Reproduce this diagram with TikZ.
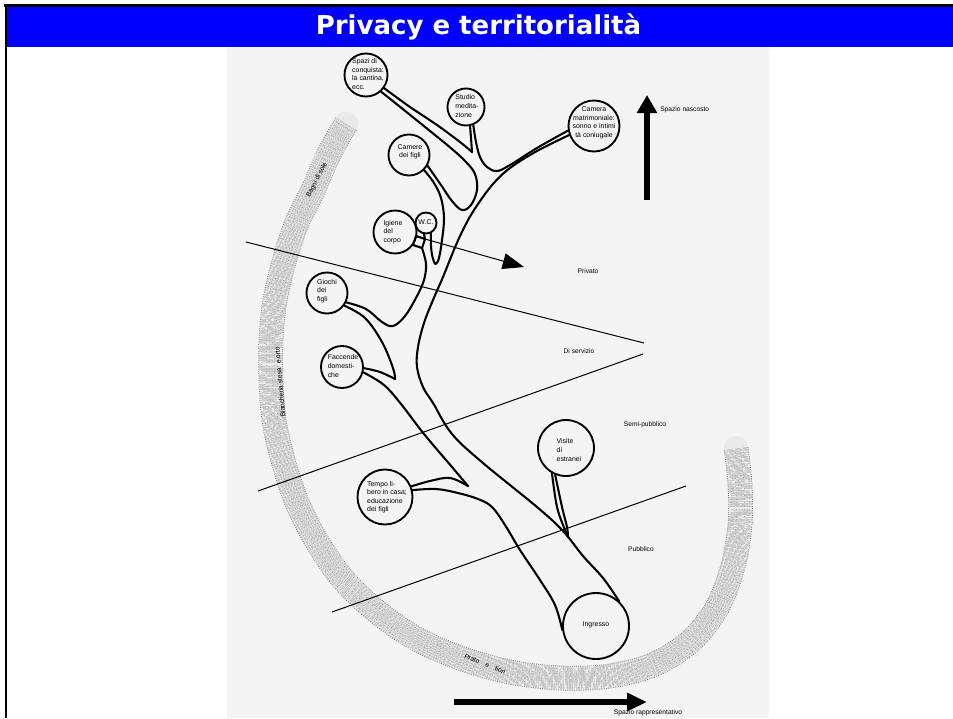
\documentclass[tikz,border=0pt]{standalone}
\usepackage{fontspec}
\setmainfont{Liberation Sans}
\newfontfamily\titlefont{DejaVu Sans}
\usetikzlibrary{arrows.meta}
\definecolor{scanbg}{RGB}{244,244,244}
\definecolor{bandgrey}{RGB}{234,234,234}
\definecolor{titleblue}{RGB}{0,0,255}
\begin{document}
\begin{tikzpicture}[x=0.75pt,y=-0.75pt,
  room/.style={circle,draw,line width=1.4pt,inner sep=0pt,minimum size=#1*1.5pt},
  roomtext/.style={font=\fontsize{5.2}{6.4}\selectfont,inner sep=0pt,align=left},
  roomtextc/.style={roomtext,align=center},
  lbl/.style={font=\fontsize{5}{6}\selectfont,inner sep=0pt},
  branch/.style={line width=1.55pt,line join=round,line cap=round},
  zone/.style={line width=0.75pt},
]
\useasboundingbox (0,0) rectangle (953,718);
\fill[white] (0,0) rectangle (953,718);
\fill[scanbg] (227,47) rectangle (769,718);
\fill[titleblue] (7,7) rectangle (953,46.5);
\fill[black] (4,4) rectangle (953,7);
\fill[black] (4.5,4) rectangle (7.3,718);
\node[anchor=base,text=white,font=\titlefont\bfseries\fontsize{19.5}{20}\selectfont,inner sep=0pt] (title) at (478.5,34.5) {Privacy e territorialità};

% stippled band
\def\bandpath{plot[smooth,tension=0.55] coordinates {(346,124) (330,152) (313,190) (296,225) (284,262) (275,300) (271,340) (271,380) (274,420) (283,460) (296,500) (316,540) (342,578) (375,610) (415,638) (460,658) (510,672) (560,678) (610,676) (655,664) (692,640) (718,606) (733,566) (740,525) (740,485) (736,448)}}
\draw[line width=18.5pt,line cap=round,bandgrey] \bandpath;
\draw[line width=0.55pt,double distance=17.4pt,double=bandgrey,draw=black!60,dash pattern=on 0.55pt off 1.1pt] \bandpath;
\draw[line width=0.5pt,double distance=13pt,double=bandgrey,draw=black!45,dash pattern=on 0.5pt off 2.3pt,dash phase=0.5pt] \bandpath;
\draw[line width=0.5pt,double distance=9.5pt,double=bandgrey,draw=black!40,dash pattern=on 0.5pt off 2.9pt,dash phase=1.1pt] \bandpath;
\draw[line width=0.5pt,double distance=5.5pt,double=bandgrey,draw=black!45,dash pattern=on 0.5pt off 2.1pt,dash phase=0.3pt] \bandpath;
\draw[line width=0.5pt,double distance=1.8pt,double=bandgrey,draw=black!40,dash pattern=on 0.5pt off 3.1pt,dash phase=1.6pt] \bandpath;
\node[lbl,rotate=63] (bagni) at (317,180) {Bagni di sole};
\node[lbl,rotate=95] (bianch) at (280,382) {Biancheria stesa\ \ e orto};
\node[lbl,rotate=-22] (prato) at (485,664) {Prato\quad e\quad fiori};

% zone lines
\coordinate (z1a) at (246,242); \coordinate (z1b) at (644,343);
\coordinate (z2a) at (258,491); \coordinate (z2b) at (643,354);
\coordinate (z3a) at (332,612); \coordinate (z3b) at (686,486);
\draw[zone] (z1a) -- (z1b);
\draw[zone] (z2a) -- (z2b);
\draw[zone] (z3a) -- (z3b);
\node[lbl] (privato) at (588,271) {Privato};
\node[lbl] (servizio) at (579,351) {Di servizio};
\node[lbl] (semi) at (645,425) {Semi-pubblico};
\node[lbl] (pubblico) at (641,549) {Pubblico};

% rooms
\node[room=21.5] (spazi) at (366,75) {};
\node[room=18.5] (studio) at (466,107) {};
\node[room=25.5] (camera) at (594,126) {};
\node[room=20.5] (camere) at (409,155) {};
\node[room=21.5] (igiene) at (395,232) {};
\node[room=10.5] (wc) at (426,223) {};
\node[room=20.5] (giochi) at (327,293) {};
\node[room=21] (faccende) at (342,367) {};
\node[room=27.5] (tempo) at (385,497) {};
\node[room=28] (visite) at (566,448) {};
\node[room=33] (ingresso) at (596,626) {};

\node[roomtext] at (368,74) {Spazi di\\conquista:\\la cantina,\\ecc.};
\node[roomtext] at (467,106) {Studio\\medita-\\zione};
\node[roomtextc] at (594,123) {Camera\\matrimoniale:\\sonno e intimi\\tà coniugale};
\node[roomtextc] at (410,152) {Camere\\dei figli};
\node[roomtext] at (393,232) {Igiene\\del\\corpo};
\node[roomtextc] at (426,222) {W.C.};
\node[roomtext] at (327,291) {Giochi\\dei\\figli};
\node[roomtext] at (343,366) {Faccende\\domesti-\\che};
\node[roomtext] at (387,497) {Tempo li-\\bero in casa;\\educazione\\dei figli};
\node[roomtext] at (569,450) {Visite\\di\\estranei};
\node[roomtextc] at (596,625) {Ingresso};

% junction points
\coordinate (c1) at (468,486);
\coordinate (c2) at (395,379);
\coordinate (c3) at (472,152);
\coordinate (c4) at (568,537);
\coordinate (r1) at (416,236);
\coordinate (r2) at (425,239);
\coordinate (r3) at (422,248);
\coordinate (r4) at (413,245);

% tree outline
\draw[branch] plot[smooth,tension=0.6] coordinates {(ingresso.187) (555,605) (540,580) (520,550) (505,525) (492,507) (478,499) (458,493) (436,489) (tempo.14)};
\draw[branch] plot[smooth,tension=0.6] coordinates {(tempo.22) (430,481) (450,478) (c1)};
\draw[branch] plot[smooth,tension=0.6] coordinates {(c1) (452,467) (424,434) (401,404) (384,385) (faccende.-14)};
\draw[branch] plot[smooth,tension=0.6] coordinates {(faccende.-3) (380,372) (c2)};
\draw[branch] plot[smooth,tension=0.6] coordinates {(c2) (393,368) (382,342) (365,318) (giochi.-36)};
\draw[branch] plot[smooth,tension=0.6] coordinates {(giochi.-26) (366,309) (382,322) (393,326) (405,316) (417,296) (424,280) (426,264) (r3)};
\draw[branch] (r1) -- (r2) -- (r3) -- (r4) -- cycle;
\draw[branch] (wc.-100) -- (r2);
\draw[branch] plot[smooth,tension=0.6] coordinates {(wc.-65) (431,246) (432.5,257) (435.5,264) (439,258) (442,240) (444,218) (441,198) (434,183) (camere.-45)};
\draw[branch] plot[smooth,tension=0.6] coordinates {(camere.-30) (441,185) (452,201) (462,210) (471,205) (477,190) (475,174) (466,162) (452,149) (430,131) (404,110) (spazi.-48)};
\draw[branch] plot[smooth,tension=0.6] coordinates {(spazi.-36) (410,107) (437,125) (460,142) (c3)};
\draw[branch] plot[smooth,tension=0.6] coordinates {(c3) (471,138) (studio.-78)};
\draw[branch] plot[smooth,tension=0.6] coordinates {(studio.-68) (476,142) (480,157) (487,167) (497,171) (510,165) (537,148) (camera.190)};
\draw[branch] plot[smooth,tension=0.6] coordinates {(camera.200) (537,151) (510,168) (493,184) (478,204) (467,222) (456,245) (443,277) (433,300) (424,323) (418,347) (417,367) (423,387) (433,403) (452,434) (483,463) (537,507) (563,531) (583,556) (603,578) (ingresso.47)};
\draw[branch] plot[smooth,tension=0.6] coordinates {(visite.-119) (557,507) (565,530) (c4)};
\draw[branch] plot[smooth,tension=0.6] coordinates {(visite.-112) (562,507) (567,527) (c4)};

% Privato arrow
\coordinate (pa) at (524,267);
\draw[zone,-{Triangle[length=16pt,width=12pt]}] (r2) -- (pa);

% big arrows
\coordinate (nsA) at (647,200); \coordinate (nsB) at (647,95);
\draw[line width=4.8pt,-{Triangle[length=13.5pt,width=14.5pt]}] (nsA) -- (nsB);
\node[lbl,anchor=west] (nascosto) at (660,110) {Spazio nascosto};
\coordinate (srA) at (454,702); \coordinate (srB) at (647,702);
\draw[line width=4pt,-{Triangle[length=15pt,width=13pt]}] (srA) -- (srB);
\node[lbl] (rappr) at (648,713) {Spazio rappresentativo};
\end{tikzpicture}
\end{document}
